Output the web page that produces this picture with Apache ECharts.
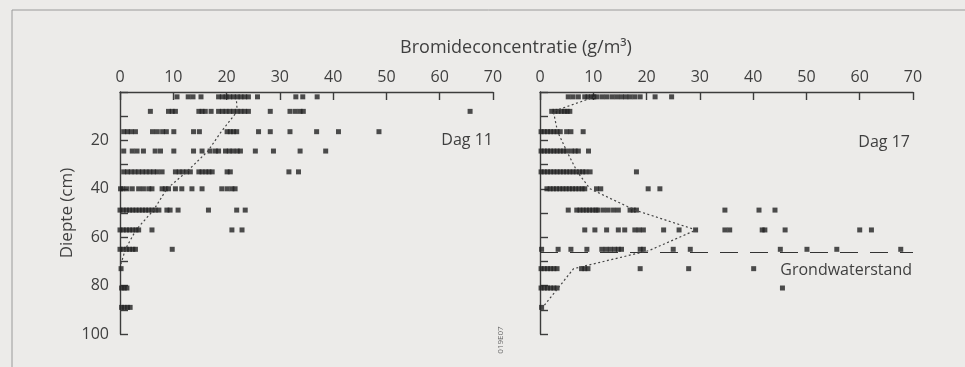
<!DOCTYPE html>
<html>
<head>
<meta charset="utf-8">
<script src="https://cdn.jsdelivr.net/npm/echarts@6/dist/echarts.min.js"></script>
<style>
html,body{margin:0;padding:0;background:#ecebe9;}
#chart{width:965px;height:367px;}
</style>
</head>
<body>
<div id="chart"></div>
<script>
// Depth levels (cm) of the sampled rows
const depths = [2, 8, 16.4, 24.4, 33, 40, 48.8, 57, 65, 73, 81, 89];

// Dag 11: bromide concentrations (g/m3) per depth row
const dag11Conc = [
  [10.7, 12.8, 13.7, 15.2, 18.5, 19.2, 19.9, 20.6, 21.3, 22.0, 22.7, 23.4, 24.1, 25.8, 33.0, 34.3, 37.0],
  [5.7, 9.1, 9.8, 10.4, 14.8, 15.4, 16.0, 17.1, 18.5, 19.2, 19.9, 20.6, 21.3, 22.0, 22.7, 23.4, 24.1, 28.2, 31.9, 32.9, 33.8, 34.4, 65.7],
  [0.7, 1.4, 2.1, 2.9, 6.1, 7.0, 8.0, 8.7, 10.1, 13.8, 14.9, 20.1, 20.7, 21.3, 21.9, 26.0, 28.2, 31.9, 36.9, 41.0, 48.6],
  [0.7, 2.3, 3.2, 4.4, 6.6, 7.6, 10.1, 13.8, 15.4, 16.9, 17.9, 18.5, 19.8, 20.5, 21.2, 22.0, 22.6, 25.4, 28.8, 33.8, 38.6],
  [0.7, 1.4, 2.1, 2.8, 3.5, 4.2, 4.9, 5.6, 6.3, 7.0, 7.9, 10.4, 11.1, 11.8, 12.5, 13.2, 14.8, 15.4, 16.1, 16.7, 17.3, 20.1, 20.7, 31.7, 33.5],
  [0.1, 0.5, 1.3, 2.3, 3.5, 4.4, 5.4, 6.0, 7.9, 8.5, 9.1, 10.4, 11.6, 13.5, 15.4, 19.1, 20.1, 21.0, 21.6],
  [0.0, 0.6, 1.2, 1.8, 2.4, 3.0, 3.6, 4.2, 4.8, 5.4, 6.0, 6.6, 7.3, 8.8, 9.4, 10.9, 16.6, 21.9, 23.5],
  [0.0, 0.6, 1.2, 1.8, 2.4, 3.0, 3.5, 6.0, 21.0, 22.9],
  [0.0, 0.6, 1.2, 1.8, 2.4, 2.9, 9.8],
  [0.2],
  [0.3, 0.8, 1.3],
  [0.3, 0.8, 1.4, 1.9]
];

// Dag 17: bromide concentrations (g/m3) per depth row
const dag17Conc = [
  [5.3, 6.2, 7.2, 8.4, 9.0, 9.6, 10.1, 10.6, 11.6, 12.5, 13.5, 14.4, 15.3, 16.1, 16.9, 17.8, 18.8, 21.6, 24.7],
  [2.2, 2.8, 3.4, 4.0, 4.6, 5.1, 5.6],
  [0.2, 0.8, 1.4, 2.0, 2.6, 3.2, 3.8, 5.0, 5.8, 8.1],
  [0.2, 0.8, 1.4, 2.0, 2.6, 3.2, 3.8, 4.4, 5.0, 5.9, 6.6, 7.2, 9.1],
  [0.2, 0.8, 1.4, 2.0, 2.6, 3.2, 3.8, 4.4, 5.0, 5.6, 6.2, 6.8, 7.4, 8.0, 8.6, 9.4, 18.1],
  [1.3, 1.9, 2.5, 3.1, 3.7, 4.3, 4.9, 5.5, 6.1, 6.7, 7.3, 7.9, 8.4, 10.6, 11.4, 20.3, 22.5],
  [5.3, 6.9, 7.5, 8.1, 8.7, 9.3, 9.9, 10.5, 10.9, 11.9, 12.8, 13.8, 14.7, 16.9, 17.5, 18.1, 34.7, 41.1, 44.1],
  [8.4, 10.3, 12.5, 14.7, 15.9, 17.8, 18.6, 19.4, 23.2, 26.1, 29.2, 34.7, 35.6, 41.7, 42.2, 46.0, 60.0, 62.2],
  [0.3, 3.4, 5.8, 8.8, 11.6, 12.4, 13.2, 14.0, 14.7, 15.3, 18.8, 19.4, 25.0, 28.2, 45.1, 50.1, 55.7, 67.7],
  [0.2, 0.8, 1.4, 2.0, 2.6, 3.2, 7.8, 8.4, 9.0, 18.8, 27.9, 40.1],
  [0.2, 0.8, 1.4, 2.0, 2.6, 3.2, 45.5],
  [0.3]
];

// Mean profiles (dotted lines): concentration and depth
const dag11MeanConc  = [21.8, 22.0, 19.0, 16.5, 12.5, 8.8, 6.3, 3.0, 1.0, 0.2];
const dag11MeanDepth = [2, 8, 16.4, 24.4, 33, 40, 48.8, 57, 65, 71];
const dag17MeanConc  = [10.3, 2.5, 3.3, 5.0, 7.0, 9.4, 17.8, 29.3, 20.5, 6.3, 3.4, 0.5];
const dag17MeanDepth = [2, 8, 16.4, 24.4, 33, 40, 48.8, 57, 65.5, 73, 81, 89];

// Groundwater level (cm) on day 17
const groundwaterDepth = 66.3;
const concRange = [0, 70];

// Tick labels
const xTickStep = 10;
const yTickStep = 10;
const yLabelStep = 20;

const FONT = '"Open Sans", "Noto Sans", sans-serif';
const AX = '#3c3c3c';
const TXT = '#3f3f3f';

function toPoints(rows) {
  const pts = [];
  rows.forEach((vals, i) => vals.forEach(v => pts.push([v, depths[i]])));
  return pts;
}
function zip(a, b) { return a.map((v, i) => [v, b[i]]); }

function xAxisCfg(idx) {
  return {
    gridIndex: idx, type: 'value', position: 'top',
    min: concRange[0], max: concRange[1], interval: xTickStep,
    axisLine: { show: true, lineStyle: { color: AX, width: 1.4 } },
    axisTick: { show: true, inside: true, length: 8, lineStyle: { color: AX, width: 1.4 } },
    axisLabel: { color: TXT, fontSize: 16, margin: 7, fontFamily: FONT },
    splitLine: { show: false }
  };
}
function yAxisCfg(idx, showLabels) {
  return {
    gridIndex: idx, type: 'value', inverse: true,
    min: 0, max: 100, interval: yTickStep,
    axisLine: { show: true, lineStyle: { color: AX, width: 1.4 } },
    axisTick: { show: true, inside: true, length: 8, lineStyle: { color: AX, width: 1.4 } },
    axisLabel: {
      show: showLabels, color: TXT, fontSize: 16, margin: 11, fontFamily: FONT,
      formatter: v => (v > 0 && v % yLabelStep === 0) ? String(v) : ''
    },
    splitLine: { show: false }
  };
}

const chart = echarts.init(document.getElementById('chart'));
chart.setOption({
  backgroundColor: '#ecebe9',
  animation: false,
  grid: [
    { left: 120, top: 92, width: 373, height: 242 },
    { left: 540, top: 92, width: 373, height: 242 }
  ],
  xAxis: [xAxisCfg(0), xAxisCfg(1)],
  yAxis: [yAxisCfg(0, true), yAxisCfg(1, false)],
  series: [
    {
      type: 'line', xAxisIndex: 1, yAxisIndex: 1, symbol: 'none', silent: true,
      data: [[concRange[0], groundwaterDepth], [concRange[1], groundwaterDepth]],
      lineStyle: { color: '#333', width: 1.1, type: [18, 12] }, z: 1
    },
    {
      type: 'scatter', xAxisIndex: 0, yAxisIndex: 0, symbol: 'rect', symbolSize: [5, 5],
      itemStyle: { color: '#222' }, data: toPoints(dag11Conc), z: 3
    },
    {
      type: 'scatter', xAxisIndex: 1, yAxisIndex: 1, symbol: 'rect', symbolSize: [5, 5],
      itemStyle: { color: '#222' }, data: toPoints(dag17Conc), z: 3
    },
    {
      type: 'line', xAxisIndex: 0, yAxisIndex: 0, symbol: 'none',
      data: zip(dag11MeanConc, dag11MeanDepth),
      lineStyle: { color: '#444', width: 1.2, type: [2, 2.5] }, z: 4
    },
    {
      type: 'line', xAxisIndex: 1, yAxisIndex: 1, symbol: 'none',
      data: zip(dag17MeanConc, dag17MeanDepth),
      lineStyle: { color: '#444', width: 1.2, type: [2, 2.5] }, z: 4
    }
  ],
  graphic: [
    { type: 'line', shape: { x1: 12, y1: 10, x2: 965, y2: 10 }, style: { stroke: '#9a9a9a', lineWidth: 1 } },
    { type: 'line', shape: { x1: 12, y1: 10, x2: 12, y2: 367 }, style: { stroke: '#9a9a9a', lineWidth: 1 } },
    { type: 'text', x: 516, y: 48, style: { text: 'Bromideconcentratie (g/m³)', font: '18px ' + FONT, fill: TXT, textAlign: 'center', textVerticalAlign: 'middle' } },
    { type: 'text', x: 67, y: 213, rotation: Math.PI / 2, style: { text: 'Diepte (cm)', font: '17px ' + FONT, fill: TXT, textAlign: 'center', textVerticalAlign: 'middle' } },
    { type: 'text', x: 493, y: 140, style: { text: 'Dag 11', font: '16px ' + FONT, fill: TXT, textAlign: 'right', textVerticalAlign: 'middle' } },
    { type: 'text', x: 910, y: 142, style: { text: 'Dag 17', font: '16px ' + FONT, fill: TXT, textAlign: 'right', textVerticalAlign: 'middle' } },
    { type: 'text', x: 912, y: 270, style: { text: 'Grondwaterstand', font: '16px ' + FONT, fill: TXT, textAlign: 'right', textVerticalAlign: 'middle' } },
    { type: 'text', x: 501, y: 340, rotation: Math.PI / 2, style: { text: '019E07', font: '8px ' + FONT, fill: '#666', textAlign: 'center', textVerticalAlign: 'middle' } }
  ]
});
</script>
</body>
</html>
